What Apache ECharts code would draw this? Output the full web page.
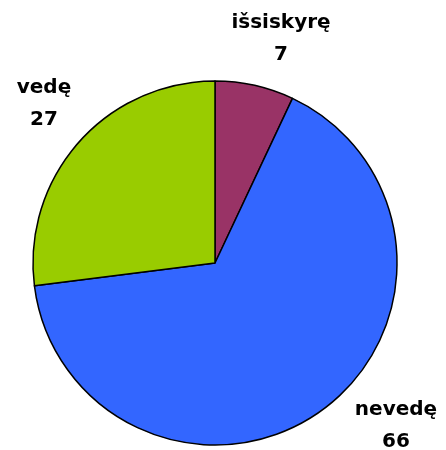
<!DOCTYPE html>
<html>
<head>
<meta charset="utf-8">
<script src="https://cdn.jsdelivr.net/npm/echarts@6/dist/echarts.min.js"></script>
<style>
html, body { margin: 0; padding: 0; background: #fff; }
#chart { width: 446px; height: 450px; }
</style>
</head>
<body>
<div id="chart"></div>
<script>
var categories = ['išsiskyrę', 'nevedę', 'vedę'];
var values = [7, 66, 27];
var colors = ['#993366', '#3366FF', '#99CC00'];
// label centres (px), one per slice
var labelPos = [[281, 39], [396, 426], [44, 104]];

var myChart = echarts.init(document.getElementById('chart'));

var pieData = categories.map(function (c, i) {
    return { name: c, value: values[i], itemStyle: { color: colors[i] } };
});

var option = {
    animation: false,
    series: [{
        type: 'pie',
        center: [215, 263],
        radius: 182,
        startAngle: 90,
        clockwise: true,
        data: pieData,
        itemStyle: { borderColor: '#000', borderWidth: 1.5 },
        label: {
            show: true,
            position: 'inside',
            overflow: 'none',
            formatter: '{b}\n{c}',
            fontFamily: 'DejaVu Sans, sans-serif',
            fontWeight: 'bold',
            fontSize: 20,
            lineHeight: 32,
            color: '#000',
            align: 'center'
        },
        labelLine: { show: false },
        labelLayout: function (p) {
            var pos = labelPos[p.dataIndex];
            return { x: pos[0], y: pos[1], align: 'center', verticalAlign: 'middle' };
        },
        emphasis: { disabled: true }
    }]
};

myChart.setOption(option);
</script>
</body>
</html>
